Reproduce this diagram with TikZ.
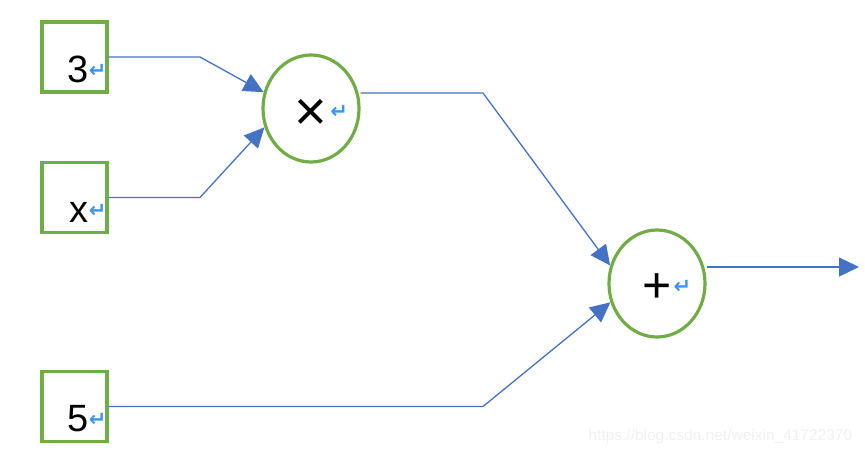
\documentclass[tikz,border=0pt]{standalone}
\usepackage{fontspec}
\setmainfont{Liberation Sans}
\newfontfamily\symfont{DejaVu Sans}
\usetikzlibrary{arrows.meta,positioning,shapes.geometric}
\definecolor{boxgreen}{HTML}{70AD47}
\definecolor{linkblue}{HTML}{4472C4}
\definecolor{markblue}{HTML}{3D95F0}
\newcommand{\parmark}{{\symfont\bfseries\fontsize{21}{21}\selectfont\color{markblue}\raisebox{5pt}{↵}}}

\begin{document}
\begin{tikzpicture}[
  x=1pt, y=-1pt,
  font=\fontsize{38}{40}\selectfont,
  numbox/.style={draw=boxgreen, line width=3.2pt, minimum width=65pt, minimum height=70pt, inner sep=0pt, text width=64pt, align=right, text height=60pt, text depth=10pt},
  opnode/.style={draw=boxgreen, line width=3.2pt, ellipse, minimum width=96pt, minimum height=107pt, inner sep=0pt, text height=30pt, text depth=0.8pt},
  link/.style={draw=linkblue, line width=1.3pt, -{Triangle[length=20pt,width=19pt]}}
]
\useasboundingbox (0,0) rectangle (865,452);

\node[numbox] (three) at (74.5,57) {3\parmark};
\node[numbox] (var) at (74.5,197.5) {x\parmark};
\node[numbox] (five) at (74.5,406.5) {5\parmark};

\node[opnode] (mul) at (311,108.5) {\raisebox{-7pt}{\fontsize{56}{56}\selectfont ×}\rlap{\kern3pt\parmark}};
\node[opnode] (add) at (657,283.5) {\raisebox{-4pt}{\fontsize{50}{50}\selectfont +}\rlap{\kern2pt\parmark}};

\coordinate (out) at (859,267);

\draw[link] (three.east) -- (200,57) -- (mul.161);
\draw[link] (var.east) -- (200,197.5) -- (mul.202);
\draw[link] (mul.east |- 0,93) -- (483,93) -- (add.159);
\draw[link] (five.east) -- (483,406.5) -- (add.202);
\draw[link] (add.east |- out) -- (out);

% watermark
\node[font=\fontsize{15.5}{15.5}\selectfont, text=black!6, anchor=base west] (wmark) at (585,440) {https://blog.csdn.net/weixin\_41722370};

\end{tikzpicture}
\end{document}
